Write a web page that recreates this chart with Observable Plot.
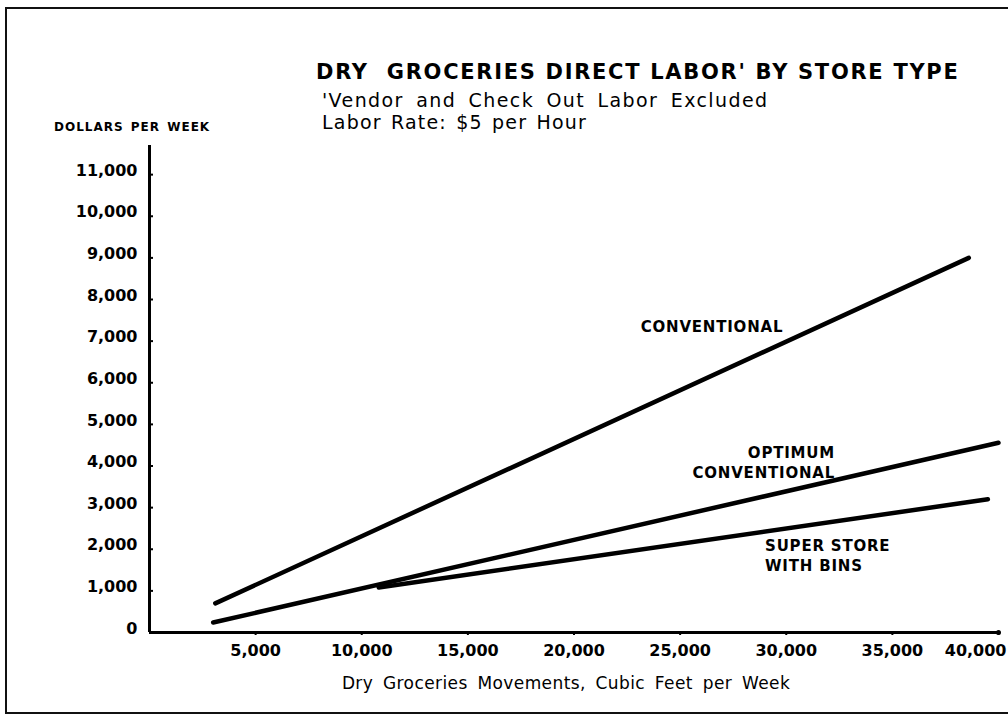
<!DOCTYPE html>
<html>
<head>
<meta charset="utf-8">
<script src="https://cdn.jsdelivr.net/npm/d3@7"></script>
<script src="https://cdn.jsdelivr.net/npm/@observablehq/plot@0.6"></script>
<style>
  html, body { margin: 0; padding: 0; background: #fff; }
  #wrap { position: relative; width: 1008px; height: 719px; overflow: hidden; background: #fff; font-family: "DejaVu Sans", sans-serif; color: #000; }
  #frame { position: absolute; left: 5px; top: 7px; width: 1020px; height: 707px; border: 2px solid #111; box-sizing: border-box; }
  .t { position: absolute; white-space: pre; line-height: 1; }
  #title { left: 316px; top: 62px; font-size: 21px; font-weight: bold; letter-spacing: 1.7px; }
  #sub1 { left: 322px; top: 91px; font-size: 19px; letter-spacing: 1.4px; word-spacing: 5px; }
  #sub2 { left: 322px; top: 113px; font-size: 19px; letter-spacing: 1.2px; word-spacing: 2px; }
  #ylab { left: 54px; top: 121px; font-size: 12px; font-weight: bold; letter-spacing: 1px; word-spacing: 2px; }
  #xlab { left: 0; width: 1132px; text-align: center; top: 675px; font-size: 17px; letter-spacing: 0.4px; word-spacing: 4px; }
  #chart { position: absolute; left: 0; top: 0; }
</style>
</head>
<body>
<div id="wrap">
  <div id="frame"></div>
  <div id="chart"></div>
  <div class="t" id="title">DRY  GROCERIES DIRECT LABOR' BY STORE TYPE</div>
  <div class="t" id="sub1">'Vendor and Check Out Labor Excluded</div>
  <div class="t" id="sub2">Labor Rate: $5 per Hour</div>
  <div class="t" id="ylab">DOLLARS PER WEEK</div>
  <div class="t" id="xlab">Dry Groceries Movements, Cubic Feet per Week</div>
</div>
<script>
// ---- data ----
const storeTypes = ["CONVENTIONAL", "OPTIMUM CONVENTIONAL", "SUPER STORE WITH BINS"];
const conventionalCuFt = [3100, 38600];
const conventionalDollars = [700, 9000];
const optimumCuFt = [3000, 40000];
const optimumDollars = [240, 4560];
const superStoreCuFt = [10800, 39500];
const superStoreDollars = [1080, 3200];

const xTicks = [5000, 10000, 15000, 20000, 25000, 30000, 35000, 40000];
const yTicks = [0, 1000, 2000, 3000, 4000, 5000, 6000, 7000, 8000, 9000, 10000, 11000];

// label anchors in data units
const labelTexts = ["CONVENTIONAL", "OPTIMUM\nCONVENTIONAL", "SUPER STORE\nWITH BINS"];
const labelCuFt = [26500, 32300, 29000];
const labelDollars = [7360, 4100, 1870];
const labelAnchors = ["middle", "end", "start"];

// ---- build tables ----
const series = [
  {name: storeTypes[0], xs: conventionalCuFt, ys: conventionalDollars},
  {name: storeTypes[1], xs: optimumCuFt, ys: optimumDollars},
  {name: storeTypes[2], xs: superStoreCuFt, ys: superStoreDollars}
];
const lineData = series.flatMap(s => s.xs.map((x, i) => ({type: s.name, x, y: s.ys[i]})));
const labels = labelTexts.map((t, i) => ({t, x: labelCuFt[i], y: labelDollars[i], a: labelAnchors[i]}));

const fmt = d3.format(",");

const plot = Plot.plot({
  width: 1008,
  height: 719,
  marginLeft: 149,
  marginRight: 10,
  marginTop: 145,
  marginBottom: 87,
  style: {fontFamily: "DejaVu Sans, sans-serif", background: "transparent", color: "#000"},
  x: {domain: [0, 40000]},
  y: {domain: [0, 11700]},
  marks: [
    Plot.axisX({ticks: xTicks, tickFormat: fmt, tickSize: 3, tickPadding: 9, fontSize: 16, fontWeight: "bold", label: null, strokeWidth: 2}),
    Plot.axisY({ticks: yTicks, tickFormat: fmt, tickSize: 0, tickPadding: 12, dy: -4, fontSize: 16, fontWeight: "bold", label: null}),
    Plot.tickY(yTicks.slice(1), {y: d => d, stroke: "#000", strokeWidth: 2, render: (index, scales, values, dims, ctx, next) => {
      const g = next(index, scales, values, dims, ctx);
      d3.select(g).selectAll("line").attr("x2", dims.marginLeft + 4);
      return g;
    }}),
    Plot.ruleX([0], {stroke: "#000", strokeWidth: 3}),
    Plot.ruleY([0], {stroke: "#000", strokeWidth: 3}),
    Plot.dot([{x: 40000, y: 0}], {x: "x", y: "y", r: 2.5, fill: "#000"}),
    Plot.line(lineData, {x: "x", y: "y", z: "type", stroke: "#000", strokeWidth: 4.5, strokeLinecap: "round"}),
    Plot.text(labels, {x: "x", y: "y", text: "t", textAnchor: "a", fontSize: 15, fontWeight: "bold", lineHeight: 1.3, fill: "#000"})
  ]
});
// per-label anchors + letter spacing
d3.select(plot).selectAll("g[aria-label='text'] text").each(function(d, i) {
  d3.select(this).attr("text-anchor", labels[i].a).attr("letter-spacing", "0.8px");
});
// last x tick label sits left of its tick so it stays inside the frame
const xLabelTexts = d3.select(plot).selectAll("g[aria-label='x-axis tick label'] text").nodes();
if (xLabelTexts.length) {
  const last = d3.select(xLabelTexts[xLabelTexts.length - 1]);
  last.attr("text-anchor", "end").attr("dx", 8);
}
document.getElementById("chart").appendChild(plot);
</script>
</body>
</html>
